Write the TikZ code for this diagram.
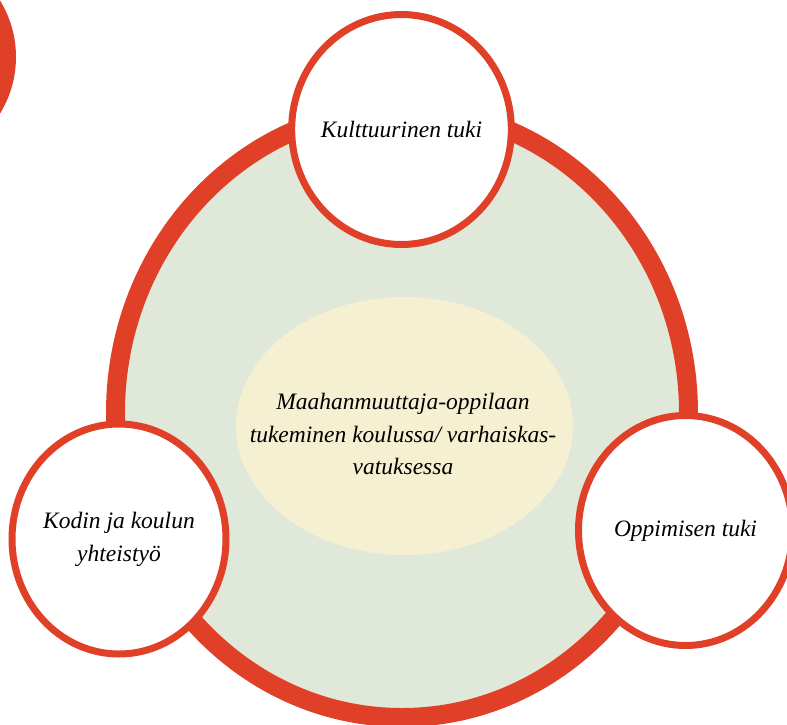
\documentclass[tikz,border=0pt]{standalone}
\usepackage{fontspec}
\setmainfont{Liberation Serif}
\usetikzlibrary{shapes.geometric}
\definecolor{ringred}{RGB}{224,64,40}
\definecolor{ringfill}{RGB}{224,233,217}
\definecolor{corefill}{RGB}{245,240,210}

\begin{document}
\begin{tikzpicture}[
        x=1bp, y=-1bp,
        every node/.style={
            font=\fontsize{23.6}{33}\selectfont\itshape,
            align=center
        },
        topic/.style={
            ellipse,
            minimum width=214bp,
            minimum height=230bp,
            fill=white,
            draw=ringred,
            line width=7bp,
            inner sep=-3pt
        }
    ]
        \useasboundingbox (0,0) rectangle (787,725);
        % Corner mark
        \fill[ringred] (-92,57) circle [radius=108bp];
        % Outer ring
        \draw[ringred, fill=ringfill, line width=19bp] (402,413) ellipse [x radius=286.5bp, y radius=304.5bp];
        % Centre
        \fill[corefill] (404.5,426) ellipse [x radius=168.5bp, y radius=129bp];
        \node (core) at (403,434) {Maahanmuuttaja-oppilaan\\tukeminen koulussa/ varhaiskas-\\vatuksessa};
        % Support areas
        \node[topic] (culture) at (401.5,129.5) {Kulttuurinen tuki};
        \node[topic] (home) at (119,539) {Kodin ja koulun\\yhteistyö};
        \node[topic] (learning) at (685.5,530.5) {Oppimisen tuki};
\end{tikzpicture}
\end{document}
